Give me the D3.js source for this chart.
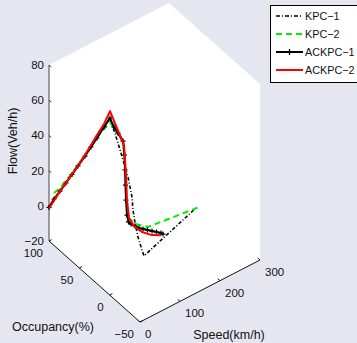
<!DOCTYPE html>
<html><head><meta charset="utf-8">
<script src="https://cdn.jsdelivr.net/npm/d3@7"></script>
<style>body{margin:0;background:#e6e6f0;} svg{display:block;}</style>
</head><body><svg width="357" height="343"></svg>
<script>
// ---- data ----
const speedTicks = [0, 100, 200, 300];
const occTicks = [-50, 0, 50, 100];
const flowTicks = [-20, 0, 20, 40, 60, 80];
const seriesNames = ["KPC\u22121", "KPC\u22122", "ACKPC\u22121", "ACKPC\u22122"];

const kpc1Speed = [0, 8, 16, 25, 35, 42, 50, 55, 60, 66, 72, 75, 80, 85, 92, 96, 260];
const kpc1Occ   = [100, 87, 72.6, 57, 44, 37, 32.4, 22.5, 17.6, 13.3, 10.7, 11, 11, 9.3, 7.4, 6.7, 27.5];
const kpc1Flow  = [-0.9, 11.4, 24.3, 38.5, 51.6, 59.2, 64.7, 53, 44.3, 35.2, 24, 16.1, 8.2, 0.1, -7.5, -11.1, -9];

const kpc2Speed = [4, 8, 16, 25, 35, 50, 60, 66, 70, 72, 78, 92, 115, 250];
const kpc2Occ   = [94.4, 87.1, 72.6, 57.1, 44, 32.4, 25.8, 21.5, 20, 20.5, 21.2, 18.9, 12.6, 17.6];
const kpc2Flow  = [8.5, 13.1, 25.2, 39.1, 52.2, 62.4, 56.5, 52.5, 36.6, 19.2, 8.6, 3.8, 1.3, -4.8];

const ack1Speed = [0,4,8,12,16,20,25,30,35,42,50,55,60,66,68,69,70,72,75,80,85,92,100,110,120,130,140,150,155];
const ack1Occ   = [100,94.4,87.1,79.9,72.6,65.4,57.1,50.5,44,37,32.4,29.1,25.8,21.5,20.4,20.2,20,20.5,20.9,21.7,20.9,18.9,17.6,17.6,16.8,15.9,15.1,14.3,14.3];
const ack1Flow  = [-0.9,5.1,11.4,17.7,24.3,30.9,38.5,45.1,51.6,59.2,64.7,60,57,53.1,45.3,36.8,28.1,19.2,10.2,5.5,3.9,2.6,0.9,-0.8,-2.3,-3.8,-5.3,-6.8,-8];

const ack2Speed = [0, 8, 16, 25, 35, 42, 50, 60, 70, 72, 74, 78, 90, 110, 130, 150];
const ack2Occ   = [100, 87, 72.6, 57, 44, 37, 32.4, 27.5, 22.5, 20.5, 20.2, 19.6, 19.2, 19.2, 15.9, 14.3];
const ack2Flow  = [-1.5, 11.4, 24.6, 39.1, 53.3, 60.9, 68.7, 59.4, 50.1, 33.4, 19, 8.6, 2.7, -3, -6.1, -8];

// ---- layout ----
const W = 357, H = 343;
const FONT = "'Liberation Sans', Arial, Helvetica, sans-serif";
const svg = d3.select("svg");
svg.append("rect").attr("width", W).attr("height", H).attr("fill", "#e6e6f0");

const sx = d3.scaleLinear().domain([0, 300]).range([0, 1]);
const so = d3.scaleLinear().domain([-50, 100]).range([0, 1]);
const sf = d3.scaleLinear().domain([-20, 80]).range([0, 176]);
const origin = [140, 322], eS = [120, -62], eO = [-91, -81];
function P(s, o, f) {
  const a = sx(s), b = so(o);
  return [origin[0] + a * eS[0] + b * eO[0], origin[1] + a * eS[1] + b * eO[1] - sf(f)];
}

// box (white background)
const corners = [];
sx.domain().forEach(s => so.domain().forEach(o => sf.domain().forEach(f => corners.push(P(s, o, f)))));
const hull = d3.polygonHull(corners);
svg.append("path").attr("d", "M" + hull.join("L") + "Z").attr("fill", "#ffffff");

// axes
const axisG = svg.append("g").attr("fill", "none");
const zA = P(0, 100, -20), zB = P(0, 100, 80);
axisG.append("line").attr("x1", zA[0]).attr("y1", zA[1]).attr("x2", zB[0]).attr("y2", zB[1]).attr("stroke", "#444").attr("stroke-width", 1);
const oA = P(0, 100, -20), oB = P(0, -50, -20);
axisG.append("line").attr("x1", oA[0]).attr("y1", oA[1]).attr("x2", oB[0]).attr("y2", oB[1]).attr("stroke", "#111").attr("stroke-width", 1);
const sA = P(0, -50, -20), sB = P(300, -50, -20);
axisG.append("line").attr("x1", sA[0]).attr("y1", sA[1]).attr("x2", sB[0]).attr("y2", sB[1]).attr("stroke", "#111").attr("stroke-width", 1);

const tl = 3;
const dZ = [0.747, 0.665], dO = [0.888, -0.459], dS = [-0.747, -0.665];
const txt = svg.append("g").attr("font-family", FONT).attr("fill", "#111");

flowTicks.forEach(f => {
  const p = P(0, 100, f);
  axisG.append("line").attr("x1", p[0]).attr("y1", p[1]).attr("x2", p[0] + dZ[0] * tl).attr("y2", p[1] + dZ[1] * tl).attr("stroke", "#333");
  txt.append("text").attr("x", p[0] - 5).attr("y", p[1]).attr("dy", "0.35em").attr("text-anchor", "end")
    .attr("font-size", "11.5px").text(String(f).replace("-", "\u2212"));
});
occTicks.forEach(o => {
  const p = P(0, o, -20);
  axisG.append("line").attr("x1", p[0]).attr("y1", p[1]).attr("x2", p[0] + dO[0] * tl).attr("y2", p[1] + dO[1] * tl).attr("stroke", "#111");
  txt.append("text").attr("x", p[0] - 6).attr("y", p[1] + 12).attr("dy", "0.35em").attr("text-anchor", "end")
    .attr("font-size", "11.5px").text(String(o).replace("-", "\u2212"));
});
speedTicks.forEach(s => {
  const p = P(s, -50, -20);
  axisG.append("line").attr("x1", p[0]).attr("y1", p[1]).attr("x2", p[0] + dS[0] * tl).attr("y2", p[1] + dS[1] * tl).attr("stroke", "#111");
  txt.append("text").attr("x", p[0] + 5).attr("y", p[1] + 12).attr("dy", "0.35em").attr("text-anchor", "start")
    .attr("font-size", "11.5px").text(String(s));
});

txt.append("text").attr("transform", "translate(17,141) rotate(-90)").attr("text-anchor", "middle")
  .attr("font-size", "12.5px").text("Flow(Veh/h)");
txt.append("text").attr("x", 53).attr("y", 327).attr("dy", "0.35em").attr("text-anchor", "middle")
  .attr("font-size", "12.5px").text("Occupancy(%)");
txt.append("text").attr("x", 229).attr("y", 335).attr("dy", "0.35em").attr("text-anchor", "middle")
  .attr("font-size", "12.5px").text("Speed(km/h)");

// series
function pts(S, O, F) { return S.map((s, i) => P(s, O[i], F[i])); }
const line = d3.line();
const plot = svg.append("g").attr("fill", "none").attr("stroke-linejoin", "round");

const k1 = pts(kpc1Speed, kpc1Occ, kpc1Flow);
plot.append("path").attr("d", line(k1)).attr("stroke", "#000").attr("stroke-width", 1.6).attr("stroke-dasharray", "3.5,2,1,2");

const k2 = pts(kpc2Speed, kpc2Occ, kpc2Flow);
plot.append("path").attr("d", line(k2)).attr("stroke", "#00ee00").attr("stroke-width", 2).attr("stroke-dasharray", "6,4");

const a1 = pts(ack1Speed, ack1Occ, ack1Flow);
plot.append("path").attr("d", line(a1)).attr("stroke", "#000").attr("stroke-width", 2);
const mk = 2.5;
plot.append("g").selectAll("path").data(a1).join("path")
  .attr("d", d => `M${d[0]-mk},${d[1]}H${d[0]+mk}M${d[0]},${d[1]-mk}V${d[1]+mk}`)
  .attr("stroke", "#000").attr("stroke-width", 1.2);

const a2 = pts(ack2Speed, ack2Occ, ack2Flow);
plot.append("path").attr("d", line(a2)).attr("stroke", "#ff0000").attr("stroke-width", 2);

// legend
const lg = svg.append("g");
lg.append("rect").attr("x", 270.5).attr("y", 5.5).attr("width", 100).attr("height", 77)
  .attr("fill", "#fff").attr("stroke", "#000").attr("stroke-width", 1);
const lgY = [16, 34, 52, 70];
const lgStyle = [
  {c: "#000", w: 1.3, dash: "4,2,1,2", m: false},
  {c: "#00ee00", w: 2, dash: "6,4", m: false},
  {c: "#000", w: 2, dash: null, m: true},
  {c: "#ff0000", w: 2, dash: null, m: false}
];
seriesNames.forEach((n, i) => {
  const y = lgY[i], st = lgStyle[i];
  const l = lg.append("line").attr("x1", 276).attr("x2", 303).attr("y1", y).attr("y2", y)
    .attr("stroke", st.c).attr("stroke-width", st.w);
  if (st.dash) l.attr("stroke-dasharray", st.dash);
  if (st.m) lg.append("path").attr("d", `M${289.5-3},${y}H${289.5+3}M289.5,${y-3}V${y+3}`).attr("stroke", "#000").attr("stroke-width", 1.3);
  lg.append("text").attr("x", 305).attr("y", y).attr("dy", "0.35em").attr("font-family", FONT)
    .attr("font-size", "10.8px").attr("fill", "#111").text(n);
});
</script>
</body></html>
